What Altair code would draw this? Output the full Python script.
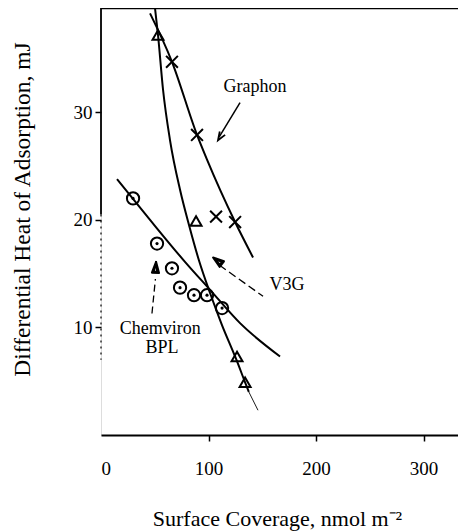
import altair as alt
import pandas as pd

# ---- data ----
graphon_curve_x = [45.6, 66.0, 89.3, 98.6, 124.7, 141.4]
graphon_curve_y = [39.2, 34.7, 27.9, 25.6, 19.8, 16.5]
graphon_pts_x = [66.0, 89.3, 107.0, 124.7]
graphon_pts_y = [34.7, 27.9, 20.3, 19.8]

v3g_curve_x = [50.2, 53.0, 57.7, 64.2, 73.5, 81.9, 91.2, 101.4, 112.6, 124.7, 134.0, 137.5]
v3g_curve_y = [39.7, 37.2, 32.1, 27.4, 22.8, 19.5, 16.2, 13.2, 10.2, 7.3, 4.9, 4.0]
v3g_tail_x = [137.5, 146.0]
v3g_tail_y = [4.0, 2.3]
v3g_pts_x = [53.0, 88.4, 126.5, 134.0]
v3g_pts_y = [37.2, 19.9, 7.3, 4.9]

chem_curve_x = [14.9, 45.6, 78.1, 101.4, 129.3, 166.5]
chem_curve_y = [23.8, 20.0, 16.1, 13.5, 10.4, 7.3]
chem_pts_x = [29.8, 52.1, 66.0, 73.5, 86.5, 98.6, 112.6]
chem_pts_y = [22.0, 17.8, 15.5, 13.7, 13.0, 13.0, 11.8]

x_ticks = [0, 100, 200, 300]
y_ticks = [10, 20, 30]

labels_text = ["Graphon", "V3G", "Chemviron", "BPL"]
labels_x = [143.3, 173.0, 55.0, 56.7]
labels_y = [32.4, 13.9, 9.9, 8.1]

# arrows: shaft start/end, head tip position and head direction (deg)
graphon_arrow_x = [129.3, 109.8]
graphon_arrow_y = [30.9, 27.7]
graphon_head = (108.8, 27.4, 212)
v3g_arrow_x = [150.7, 110.0]
v3g_arrow_y = [12.9, 15.8]
v3g_head = (104.2, 16.5, 307)
chem_arrow_x = [47.4, 50.6]
chem_arrow_y = [11.3, 14.5]
chem_head = (51.2, 16.1, 3)

FONT = "Liberation Serif"
X_DOMAIN = [0, 332]
Y_DOMAIN = [0, 39.7]
W, H = 357, 427

xs = alt.Scale(domain=X_DOMAIN, nice=False, zero=False)
ys = alt.Scale(domain=Y_DOMAIN, nice=False, zero=False)

x_axis = alt.Axis(
    values=x_ticks, title="Surface Coverage, nmol m\u207b\u00b2", grid=False,
    labelFont=FONT, labelFontSize=19, labelColor="black", labelPadding=18,
    tickColor="black", tickSize=6, tickWidth=1.5,
    tickOpacity={"condition": {"test": "datum.value === 0", "value": 0}, "value": 1},
    domainColor="black", domainWidth=2,
    titleFont=FONT, titleFontSize=22, titleFontWeight="normal", titleColor="black",
    titleX=176, titleY=83, titleAlign="center", titleBaseline="middle",
)
y_axis = alt.Axis(
    values=y_ticks, title="Differential Heat of Adsorption, mJ", grid=False, domain=False,
    labelFont=FONT, labelFontSize=19, labelColor="black", labelPadding=3,
    tickColor="black", tickSize=6, tickWidth=1.5,
    titleFont=FONT, titleFontSize=23.5, titleFontWeight="normal", titleColor="black",
    titleX=-79, titleY=201, titleAlign="center", titleBaseline="middle", titleAngle=270,
)

X = alt.X("x:Q", scale=xs, axis=x_axis)
Y = alt.Y("y:Q", scale=ys, axis=y_axis)


def df(xv, yv):
    return pd.DataFrame({"x": xv, "y": yv})


layers = []

# frame: left axis line (solid top, dotted lower) and top border
layers.append(alt.Chart(pd.DataFrame({"x": [0], "y": [39.7], "y2": [20.5]}))
              .mark_rule(color="black", strokeWidth=1.8).encode(x=X, y=Y, y2="y2"))
layers.append(alt.Chart(pd.DataFrame({"x": [0], "y": [20.5], "y2": [7.0]}))
              .mark_rule(color="black", strokeWidth=1.2, strokeDash=[2, 4]).encode(x=X, y=Y, y2="y2"))
layers.append(alt.Chart(pd.DataFrame({"x": [0], "x2": [X_DOMAIN[1]], "y": [Y_DOMAIN[1]]}))
              .mark_rule(color="black", strokeWidth=2.5).encode(x=X, x2="x2", y=Y))

# curves
for cx, cy in [(graphon_curve_x, graphon_curve_y), (v3g_curve_x, v3g_curve_y),
               (chem_curve_x, chem_curve_y)]:
    layers.append(alt.Chart(df(cx, cy)).mark_line(color="black", strokeWidth=2,
                                                  interpolate="monotone", clip=True)
                  .encode(x=X, y=Y))
layers.append(alt.Chart(df(v3g_tail_x, v3g_tail_y)).mark_line(color="black", strokeWidth=0.9)
              .encode(x=X, y=Y))

# markers
layers.append(alt.Chart(df(graphon_pts_x, graphon_pts_y))
              .mark_point(shape="M-1,-1L1,1M-1,1L1,-1", size=140, filled=False,
                          stroke="black", strokeWidth=2, opacity=1)
              .encode(x=X, y=Y))
layers.append(alt.Chart(df(v3g_pts_x, v3g_pts_y))
              .mark_point(shape="triangle-up", size=120, filled=False,
                          stroke="black", strokeWidth=2, opacity=1)
              .encode(x=X, y=Y))
layers.append(alt.Chart(df(chem_pts_x, chem_pts_y))
              .mark_point(shape="circle", size=150, filled=False,
                          stroke="black", strokeWidth=2, opacity=1)
              .encode(x=X, y=Y))
layers.append(alt.Chart(df(chem_pts_x, chem_pts_y))
              .mark_point(shape="circle", size=10, filled=True, color="black", opacity=1)
              .encode(x=X, y=Y))

# arrows
layers.append(alt.Chart(df(graphon_arrow_x, graphon_arrow_y))
              .mark_line(color="black", strokeWidth=1.5).encode(x=X, y=Y))
layers.append(alt.Chart(df(v3g_arrow_x, v3g_arrow_y))
              .mark_line(color="black", strokeWidth=1.3, strokeDash=[8, 4]).encode(x=X, y=Y))
layers.append(alt.Chart(df(chem_arrow_x, chem_arrow_y))
              .mark_line(color="black", strokeWidth=1.3, strokeDash=[7, 4]).encode(x=X, y=Y))

layers.append(alt.Chart(pd.DataFrame({"x": [graphon_head[0]], "y": [graphon_head[1]]}))
              .mark_point(shape="M-0.6,1.6L0,0L0.6,1.6", size=110, filled=False, stroke="black",
                          strokeWidth=1.8, angle=graphon_head[2], opacity=1)
              .encode(x=X, y=Y))
# filled arrowheads (V3G and Chemviron)
HEAD = "M0,0L0.65,2L-0.65,2L0,0L0.3,1.8L-0.3,1.8L0,0"
for hx, hy, ha in [v3g_head, chem_head]:
    layers.append(alt.Chart(pd.DataFrame({"x": [hx], "y": [hy]}))
                  .mark_point(shape=HEAD, size=121, filled=False,
                              stroke="black", strokeWidth=2, strokeJoin="round",
                              angle=ha, opacity=1)
                  .encode(x=X, y=Y))

# annotation text
layers.append(alt.Chart(pd.DataFrame({"x": labels_x, "y": labels_y, "t": labels_text}))
              .mark_text(font=FONT, fontSize=18, color="black", align="center", baseline="middle")
              .encode(x=X, y=Y, text="t:N"))

chart = alt.layer(*layers).properties(
    width=W, height=H,
    autosize=alt.AutoSizeParams(type="none"),
    padding={"left": 93, "top": 0, "right": 0, "bottom": 96},
).configure_view(stroke=None).configure(background="white")

chart.save("out.html", embed_options={"renderer": "svg", "actions": False})
